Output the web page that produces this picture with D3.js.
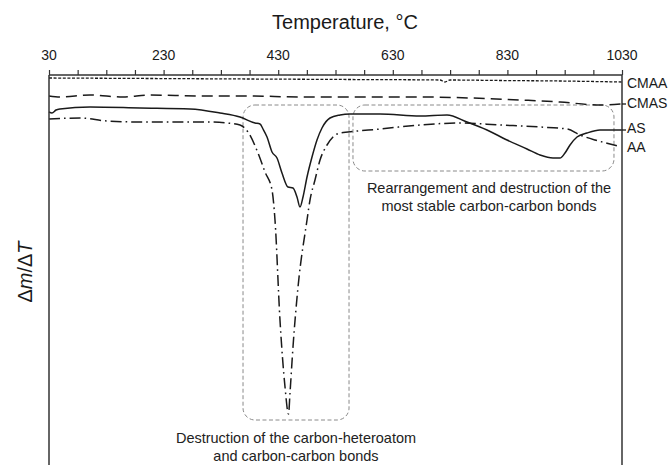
<!DOCTYPE html>
<html>
<head>
<meta charset="utf-8">
<script src="https://cdn.jsdelivr.net/npm/d3@7"></script>
<style>
  html, body { margin: 0; padding: 0; background: #fff; }
  svg { display: block; font-family: "Liberation Sans", Arial, sans-serif; }
</style>
</head>
<body>
<svg id="chart" width="671" height="465"></svg>
<script>
// Temperature ticks (°C)
const majorTicks = [30, 230, 430, 630, 830, 1030];
const minorTicks = d3.range(30, 1031, 50);

// DTG curves: temperature (°C) and mass-loss rate (arbitrary units)
const cmaaT = [30, 206.3, 380.8, 555.3, 712.4, 721.1, 729.8, 817.1, 921.8, 1030];
const cmaaV = [-0.03, -0.035, -0.04, -0.045, -0.05, -0.07, -0.05, -0.055, -0.06, -0.07];

const cmasT = [30, 49.2, 101.6, 159.1, 206.3, 293.5, 380.8, 468.0, 555.3, 677.5, 764.7, 852.0, 921.8, 991.6, 1030];
const cmasV = [-0.21, -0.22, -0.20, -0.22, -0.20, -0.21, -0.21, -0.22, -0.22, -0.22, -0.23, -0.25, -0.27, -0.30, -0.29];

const asT = [30, 35.2, 42.2, 49.2, 101.6, 188.8, 276.1, 328.4, 363.3, 389.5, 398.2, 403.5, 410.5, 419.2, 427.9,
             436.6, 447.1, 455.8, 462.8, 468.0, 473.3, 480.3, 489.0, 497.7, 506.4, 520.4, 537.9, 555.3, 607.7,
             677.5, 724.6, 759.5, 794.4, 829.3, 864.2, 886.9, 909.6, 921.8, 930.5, 939.3, 951.5, 968.9, 991.6, 1030];
const asV = [-0.37, -0.38, -0.35, -0.34, -0.32, -0.33, -0.34, -0.38, -0.42, -0.48, -0.49, -0.54, -0.62, -0.77, -0.83,
             -0.98, -1.12, -1.13, -1.22, -1.32, -1.22, -1.02, -0.82, -0.65, -0.53, -0.43, -0.40, -0.39, -0.39,
             -0.41, -0.40, -0.47, -0.55, -0.65, -0.74, -0.80, -0.83, -0.83, -0.78, -0.70, -0.62, -0.58, -0.55, -0.55];

const aaT = [30, 84.1, 131.2, 188.8, 305.7, 340.6, 363.3, 377.3, 394.7, 407.0, 419.2, 424.4, 433.1, 441.9, 448.0,
             450.6, 455.8, 464.6, 480.3, 485.5, 494.2, 503.0, 515.2, 525.6, 537.9, 551.8, 607.7, 677.5, 747.3,
             817.1, 886.9, 934.0, 956.7, 982.9, 1009.1, 1023.0];
const aaV = [-0.44, -0.43, -0.46, -0.47, -0.47, -0.48, -0.50, -0.57, -0.78, -0.97, -1.15, -1.45, -2.45, -3.12, -3.39,
             -3.18, -2.72, -2.12, -1.45, -1.25, -1.05, -0.85, -0.70, -0.62, -0.58, -0.57, -0.54, -0.50, -0.48,
             -0.50, -0.52, -0.54, -0.60, -0.65, -0.69, -0.71];

const seriesNames = ["CMAA", "CMAS", "AS", "AA"];
const labelValues = [-0.08, -0.28, -0.53, -0.72];

// Highlighted temperature windows (°C, value range)
const zoneT = [[368.6, 553.6], [560.5, 1016.0]];
const zoneV = [[-0.30, -3.45], [-0.30, -0.96]];
const zoneText = [
  ["Destruction of the carbon-heteroatom", "and carbon-carbon bonds"],
  ["Rearrangement and destruction of the", "most stable carbon-carbon bonds"]
];

const svg = d3.select("#chart");
const plotL = 49, plotR = 622, plotT = 75, plotB = 465;

const x = d3.scaleLinear().domain([30, 1030]).range([plotL, plotR]);
const y = d3.scaleLinear().domain([0, -3.9]).range([plotT, plotB]);

const ink = "#1a1a1a";

// highlight boxes
zoneT.forEach((t, i) => {
  const x0 = x(t[0]), x1 = x(t[1]), y0 = y(zoneV[i][0]), y1 = y(zoneV[i][1]);
  svg.append("rect")
    .attr("x", x0).attr("y", y0)
    .attr("width", x1 - x0).attr("height", y1 - y0)
    .attr("rx", 12).attr("ry", 12)
    .attr("fill", "none")
    .attr("stroke", "#8a8a8a")
    .attr("stroke-width", 1)
    .attr("stroke-dasharray", "4,2.5");
});

// curves
const line = d3.line().x(d => x(d[0])).y(d => y(d[1])).curve(d3.curveMonotoneX);
const curves = [
  { t: cmaaT, v: cmaaV, dash: "3,1.6", w: 1.3 },
  { t: cmasT, v: cmasV, dash: "11,6", w: 1.5 },
  { t: asT, v: asV, dash: null, w: 1.5 },
  { t: aaT, v: aaV, dash: "11,4,1.6,4", w: 1.5 }
];
curves.forEach(c => {
  const pts = c.t.map((t, i) => [t, c.v[i]]);
  svg.append("path")
    .attr("d", line(pts))
    .attr("fill", "none")
    .attr("stroke", ink)
    .attr("stroke-width", c.w)
    .attr("stroke-linejoin", "round")
    .attr("stroke-dasharray", c.dash);
});

// top axis
const axisTop = d3.axisTop(x).tickValues(minorTicks).tickSize(5).tickFormat("");
const gAxis = svg.append("g").attr("transform", `translate(0,${plotT})`).call(axisTop);
gAxis.select(".domain").attr("stroke", "#333").attr("stroke-width", 1.5)
  .attr("d", `M${plotL},0H${plotR}`);
gAxis.selectAll(".tick line").attr("stroke", "#333").attr("stroke-width", 1.2);

svg.append("g").selectAll("text")
  .data(majorTicks).join("text")
  .attr("x", d => x(d)).attr("y", 60)
  .attr("text-anchor", "middle")
  .attr("font-size", 14).attr("fill", ink)
  .text(d => d);

// side frame lines
[plotL, plotR].forEach(px => {
  svg.append("line")
    .attr("x1", px).attr("x2", px).attr("y1", plotT).attr("y2", plotB)
    .attr("stroke", "#333").attr("stroke-width", 1.5);
});

// series labels on the right
seriesNames.forEach((n, i) => {
  svg.append("text")
    .attr("x", 627).attr("y", y(labelValues[i]) + 5)
    .attr("font-size", 14).attr("fill", ink)
    .text(n);
});
[1, 2].forEach(i => {
  const v = curves[i].v[curves[i].v.length - 1];
  svg.append("line")
    .attr("x1", plotR).attr("x2", plotR + 4)
    .attr("y1", y(v)).attr("y2", y(v))
    .attr("stroke", ink).attr("stroke-width", 1.3);
});

// zone annotations
const textPos = [[296, 443], [489, 193]];
zoneText.forEach((lines, i) => {
  lines.forEach((s, j) => {
    svg.append("text")
      .attr("x", textPos[i][0]).attr("y", textPos[i][1] + j * 18)
      .attr("text-anchor", "middle")
      .attr("font-size", 14.5).attr("fill", "#222")
      .text(s);
  });
});

// axis titles
svg.append("text")
  .attr("x", 345).attr("y", 29)
  .attr("text-anchor", "middle")
  .attr("font-size", 20).attr("fill", ink)
  .text("Temperature, °C");

const yl = svg.append("text")
  .attr("transform", "translate(32,272) rotate(-90)")
  .attr("text-anchor", "middle")
  .attr("font-size", 20).attr("fill", ink);
yl.append("tspan").text("\u0394");
yl.append("tspan").attr("font-style", "italic").text("m");
yl.append("tspan").text("/\u0394");
yl.append("tspan").attr("font-style", "italic").text("T");
</script>
</body>
</html>
